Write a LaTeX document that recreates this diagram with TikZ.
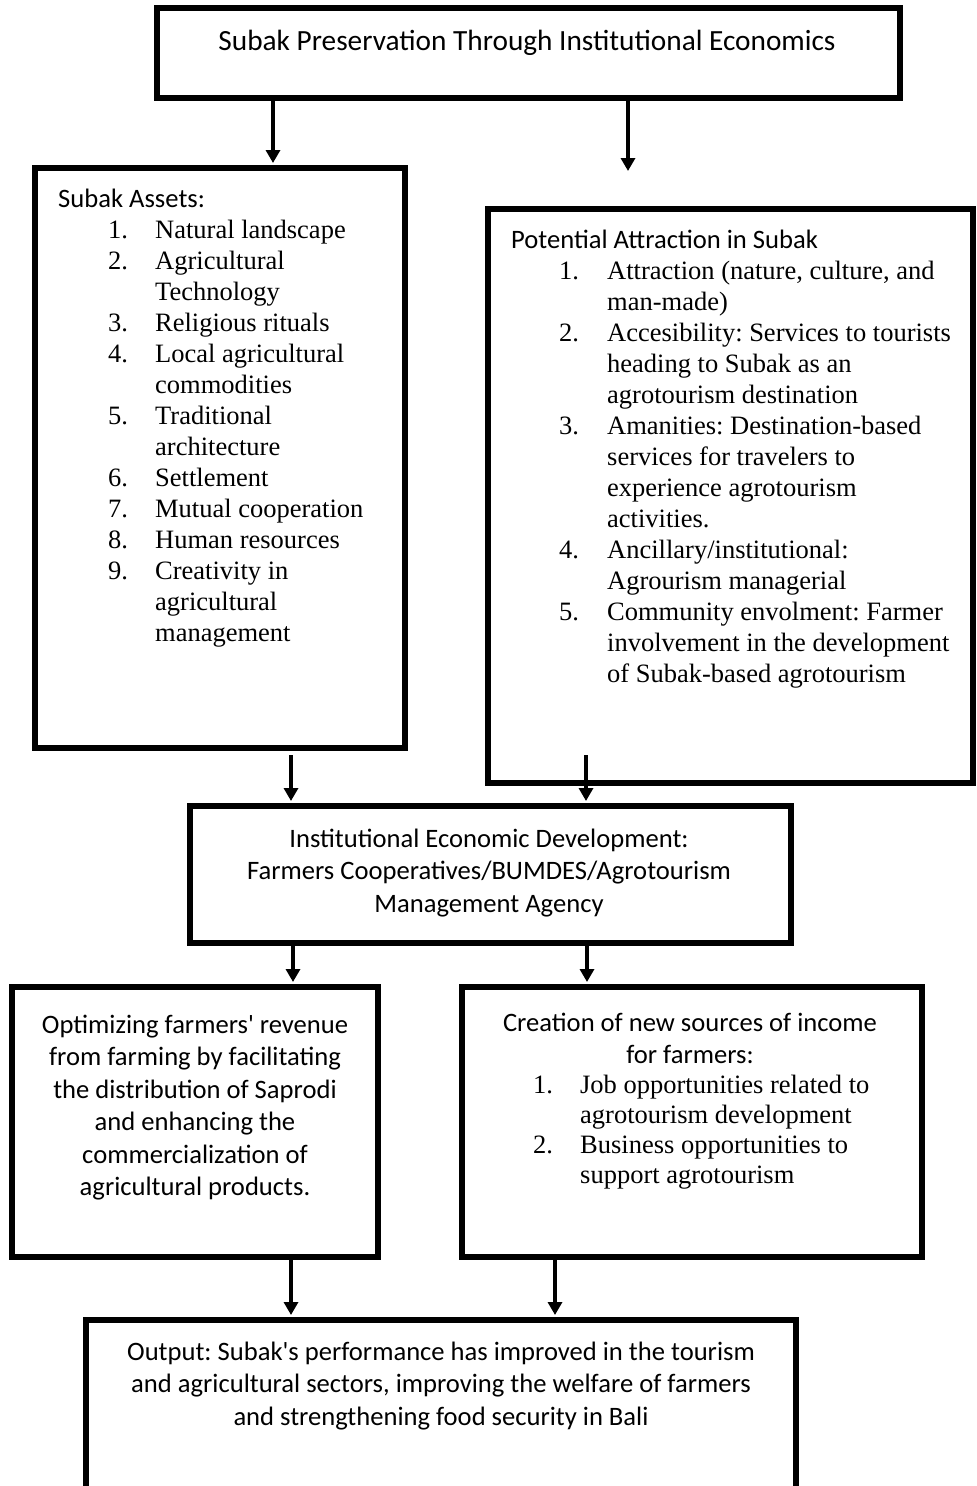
\documentclass[tikz,border=0pt]{standalone}
\usepackage{fontspec}
\setmainfont{Liberation Serif}
\newfontfamily\calib{Carlito}
\usetikzlibrary{arrows.meta,positioning,calc}

\newcommand\hdfont{\calib\fontsize{26.6}{32.5}\selectfont}
\newcommand\lsfont{\fontsize{26.5}{31}\selectfont}

\begin{document}
\frenchspacing
\begin{tikzpicture}[
  x=1pt,y=-1pt,
  bx/.style={draw,line width=6pt,inner sep=0pt},
  hd/.style={font=\hdfont,inner sep=0pt},
  ls/.style={font=\lsfont,inner sep=0pt,anchor=north west},
  ar/.style={-{Triangle[length=13pt,width=14pt]},line width=3.5pt,shorten >=2pt}
]
\useasboundingbox (0,0) rectangle (977,1486);

% boxes
\node[bx,minimum width=743pt,minimum height=90pt] (top) at (528.5,53) {};
\node[bx,minimum width=370pt,minimum height=580pt] (assets) at (220,458) {};
\node[bx,minimum width=485pt,minimum height=574pt] (attract) at (730.5,496) {};
\node[bx,minimum width=601pt,minimum height=137pt] (inst) at (490.5,874.5) {};
\node[bx,minimum width=366pt,minimum height=270pt] (revenue) at (195,1122) {};
\node[bx,minimum width=460pt,minimum height=270pt] (income) at (692,1122) {};
\node[bx,minimum width=710pt,minimum height=169pt] (output) at (441,1404.5) {};

% texts
\node[hd,anchor=base,font=\calib\fontsize{29.3}{35}\selectfont] (toptxt) at (527,50)
     {Subak Preservation Through Institutional Economics};

\node[ls] (assetstxt) at (58,185.3) {\begin{tabular}{@{}p{50pt}@{}p{47pt}@{}l@{}}
  \multicolumn{3}{@{}l@{}}{\hdfont Subak Assets:}\\
  & 1. & Natural landscape\\
  & 2. & Agricultural\\
  &    & Technology\\
  & 3. & Religious rituals\\
  & 4. & Local agricultural\\
  &    & commodities\\
  & 5. & Traditional\\
  &    & architecture\\
  & 6. & Settlement\\
  & 7. & Mutual cooperation\\
  & 8. & Human resources\\
  & 9. & Creativity in\\
  &    & agricultural\\
  &    & management
\end{tabular}};

\node[ls] (attracttxt) at (511,226.3) {\begin{tabular}{@{}p{48pt}@{}p{48pt}@{}l@{}}
  \multicolumn{3}{@{}l@{}}{\hdfont Potential Attraction in Subak}\\
  & 1. & Attraction (nature, culture, and\\
  &    & man-made)\\
  & 2. & Accesibility: Services to tourists\\
  &    & heading to Subak as an\\
  &    & agrotourism destination\\
  & 3. & Amanities: Destination-based\\
  &    & services for travelers to\\
  &    & experience agrotourism\\
  &    & activities.\\
  & 4. & Ancillary/institutional:\\
  &    & Agrourism managerial\\
  & 5. & Community envolment: Farmer\\
  &    & involvement in the development\\
  &    & of Subak-based agrotourism
\end{tabular}};

\node[hd,anchor=north] (insttxt) at (489,824.25) {\begin{tabular}{@{}c@{}}
  Institutional Economic Development:\\
  Farmers Cooperatives/BUMDES/Agrotourism\\
  Management Agency
\end{tabular}};

\node[hd,anchor=north] (revenuetxt) at (195,1010.25) {\begin{tabular}{@{}c@{}}
  Optimizing farmers\textquotesingle{} revenue\\
  from farming by facilitating\\
  the distribution of Saprodi\\
  and enhancing the\\
  commercialization of\\
  agricultural products.
\end{tabular}};

\node[hd,anchor=north] (incomehd) at (690,1008.25) {\begin{tabular}{@{}c@{}}
  Creation of new sources of income\\
  for farmers:
\end{tabular}};
\node[ls,font=\fontsize{26.5}{30}\selectfont] (incometxt) at (533,1072) {\begin{tabular}{@{}p{47pt}@{}l@{}}
  1. & Job opportunities related to\\
     & agrotourism development\\
  2. & Business opportunities to\\
     & support agrotourism
\end{tabular}};

\node[hd,anchor=north] (outputtxt) at (441,1337.25) {\begin{tabular}{@{}c@{}}
  Output: Subak\textquotesingle{}s performance has improved in the tourism\\
  and agricultural sectors, improving the welfare of farmers\\
  and strengthening food security in Bali
\end{tabular}};

% connectors
\coordinate (c1) at (273,0);
\coordinate (e2) at (628,173);
\coordinate (m1) at (291,755);
\coordinate (m2) at (586,755);
\coordinate (l1) at (293,0);
\coordinate (l2) at (587,0);
\coordinate (b1) at (291,0);
\coordinate (b2) at (555,0);

\draw[ar](top.south-|c1)--(assets.north-|c1);
\draw[ar](top.south-|e2)--(e2);
\foreach \c in {m1,m2}{
  \draw[ar](\c)--(inst.north-|\c);
}
\draw[ar](inst.south-|l1)--(revenue.north-|l1);
\draw[ar](inst.south-|l2)--(income.north-|l2);
\draw[ar](revenue.south-|b1)--(output.north-|b1);
\draw[ar](income.south-|b2)--(output.north-|b2);
\end{tikzpicture}
\end{document}
